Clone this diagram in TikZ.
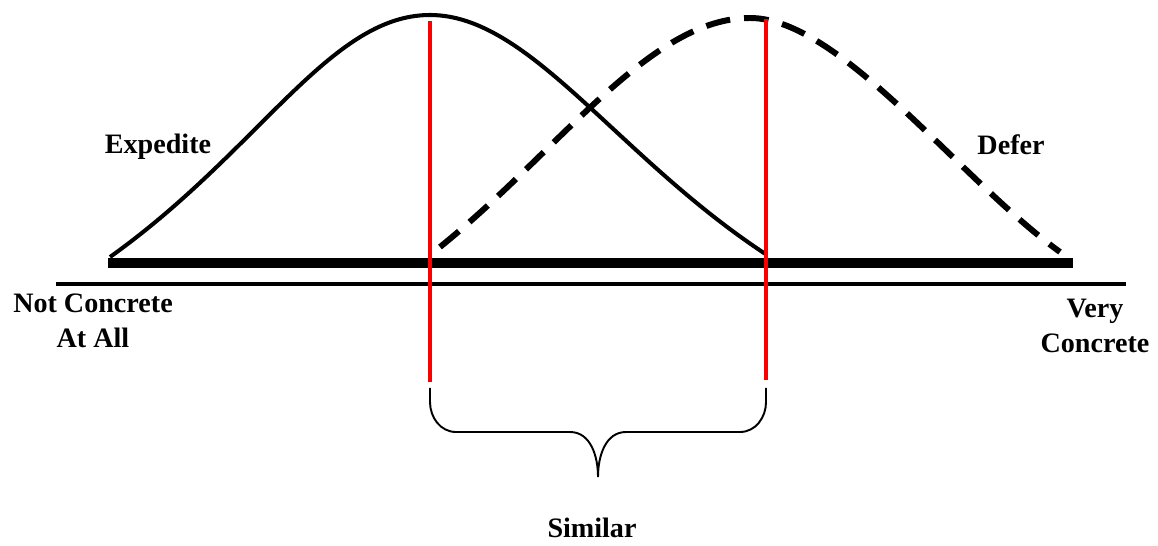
\documentclass[tikz,border=0pt]{standalone}
\usepackage{fontspec}
\setmainfont{Liberation Serif}
\newcommand{\LX}{430}
\newcommand{\RX}{766}
\newcommand{\BY}{263}
\definecolor{simred}{RGB}{250,0,0}

\begin{document}
\begin{tikzpicture}[
    x=0.02cm, y=-0.02cm,
    bar/.style={draw=black, line width=5.4pt},
    axisline/.style={draw=black, line width=2.6pt},
    expcurve/.style={draw=black, line width=2.3pt},
    defcurve/.style={draw=black, line width=3.4pt, dash pattern=on 14pt off 8pt},
    marker/.style={draw=simred, line width=1.8pt},
    bracepath/.style={draw=black, line width=1.1pt},
    tag/.style={font=\fontsize{16}{19.5}\selectfont\bfseries, inner sep=0pt},
  ]
  \useasboundingbox (0,0) rectangle (1158,546);

  %% the two scales: thick bar for the curves, thin axis below
  \draw[bar] (108,\BY) -- (1073,\BY);
  \draw[axisline] (56,284) -- (1126,284);

  %% expedite (solid) and defer (dashed) curves
  \draw[expcurve] (110,257) .. controls (260,150) and (330,15) .. (430,15)
                  .. controls (530,15) and (617,157) .. (767,255);
  \draw[defcurve] (440,247) .. controls (560,150) and (650,18) .. (750,18)
                  .. controls (840,18) and (960,180) .. (1060,252);

  %% labels
  \node[tag, anchor=base] (expedite) at (158,154) {Expedite};
  \node[tag, anchor=base] (defer) at (1011,155) {Defer};
  \node[tag, anchor=north, align=center] (notc) at (93,294) {Not Concrete\\At All};
  \node[tag, anchor=north, align=center] (veryc) at (1095,299) {Very\\Concrete};

  %% red markers through both peaks
  \coordinate (peakL) at (\LX,21);
  \coordinate (footL) at (\LX,382);
  \coordinate (peakR) at (\RX,19);
  \coordinate (footR) at (\RX,380);
  \draw[marker] (peakL) -- (footL);
  \draw[marker] (peakR) -- (footR);

  %% brace between the markers
  \coordinate (braceL) at (\LX,388);
  \coordinate (braceR) at (\RX,388);
  \coordinate (tip) at (598,477);
  \draw[bracepath] (braceL) -- (\LX,402) to[out=-90, in=180] (456,432) -- (570,432)
    to[out=0, in=90] (tip) to[out=90, in=180] (626,432) -- (740,432)
    to[out=0, in=-90] (\RX,402) -- (braceR);
  \node[tag, anchor=base] (similar) at (592,537) {Similar};

\end{tikzpicture}
\end{document}
